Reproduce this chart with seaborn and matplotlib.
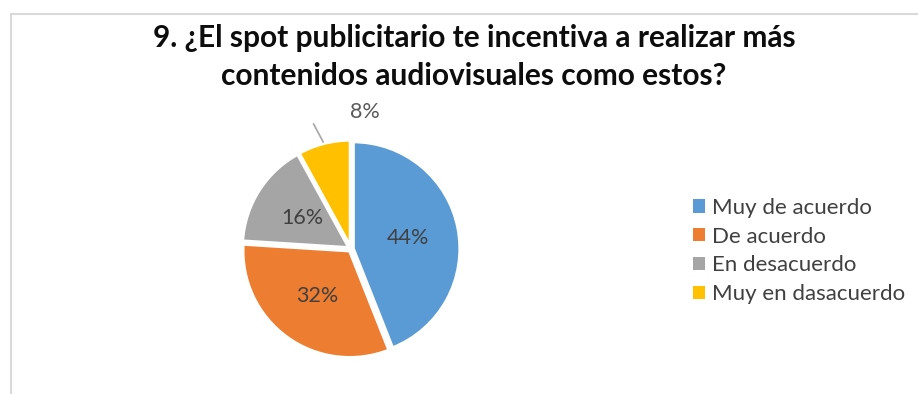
import matplotlib
matplotlib.use("Agg")
import matplotlib.pyplot as plt
from matplotlib.lines import Line2D
from matplotlib.patches import Patch
import numpy as np
import seaborn as sns

# Survey answers for question 9
categories = ["Muy de acuerdo", "De acuerdo", "En desacuerdo", "Muy en dasacuerdo"]
shares = [44, 32, 16, 8]
pct_labels = ["44%", "32%", "16%", "8%"]
colors = ["#5B9BD5", "#ED7D31", "#A5A5A5", "#FFC000"]
title = "9. ¿El spot publicitario te incentiva a realizar más\ncontenidos audiovisuales como estos?"

sns.set_theme(style="white")
plt.rcParams["font.family"] = ["Lato", "DejaVu Sans"]

W, H = 918, 394
fig = plt.figure(figsize=(W / 100, H / 100), dpi=100)
fig.patch.set_facecolor("white")

# Chart-area frame (top and left edges)
fig.add_artist(Line2D([10.5 / W, 1.0], [1 - 13.5 / H, 1 - 13.5 / H],
                      transform=fig.transFigure, color="#D9D9D9", lw=1.5))
fig.add_artist(Line2D([10.5 / W, 10.5 / W], [1 - 13.5 / H, 0.0],
                      transform=fig.transFigure, color="#D9D9D9", lw=1.5))

# Pie axes centred on the plot area
cx, cy, r = 351, 249, 107
half = 160
ax = fig.add_axes([(cx - half) / W, (H - cy - half) / H, 2 * half / W, 2 * half / H])

wedges, _ = ax.pie(
    shares, colors=colors, startangle=90, counterclock=False,
    explode=[0.02, 0.02, 0.02, 0.02],
    wedgeprops=dict(edgecolor="white", linewidth=2.5),
)
lim = half / r
ax.set_xlim(-lim, lim)
ax.set_ylim(-lim, lim)
ax.set_aspect("equal")
ax.axis("off")

# Percentage labels inside the larger wedges
for w, val, lab in zip(wedges, shares, pct_labels):
    ang = np.deg2rad((w.theta1 + w.theta2) / 2)
    if val >= 10:
        d = 0.54
        ax.text(d * np.cos(ang), d * np.sin(ang), lab, ha="center", va="center",
                fontsize=15.5, color="#404040")
# Smallest slice: label outside with a leader line
ax.text(0.13, 1.28, pct_labels[3], ha="center", va="center", fontsize=15.5, color="#595959")
ax.plot([-0.35, -0.26], [1.17, 1.0], color="#A6A6A6", lw=1.2)

fig.text(474 / W, 1 - 57 / H, title, ha="center", va="center", fontsize=21.5,
         fontweight="bold", color="#0D0D0D", linespacing=1.4)

handles = [Patch(facecolor=c, edgecolor="none") for c in colors]
fig.legend(handles, categories, loc="center left", bbox_to_anchor=(673 / W, 1 - 251 / H),
           frameon=False, fontsize=16, handlelength=0.55, handleheight=0.55,
           handletextpad=0.3, labelspacing=0.4, labelcolor="#404040")

fig.savefig("out.png", dpi=100, facecolor="white")
